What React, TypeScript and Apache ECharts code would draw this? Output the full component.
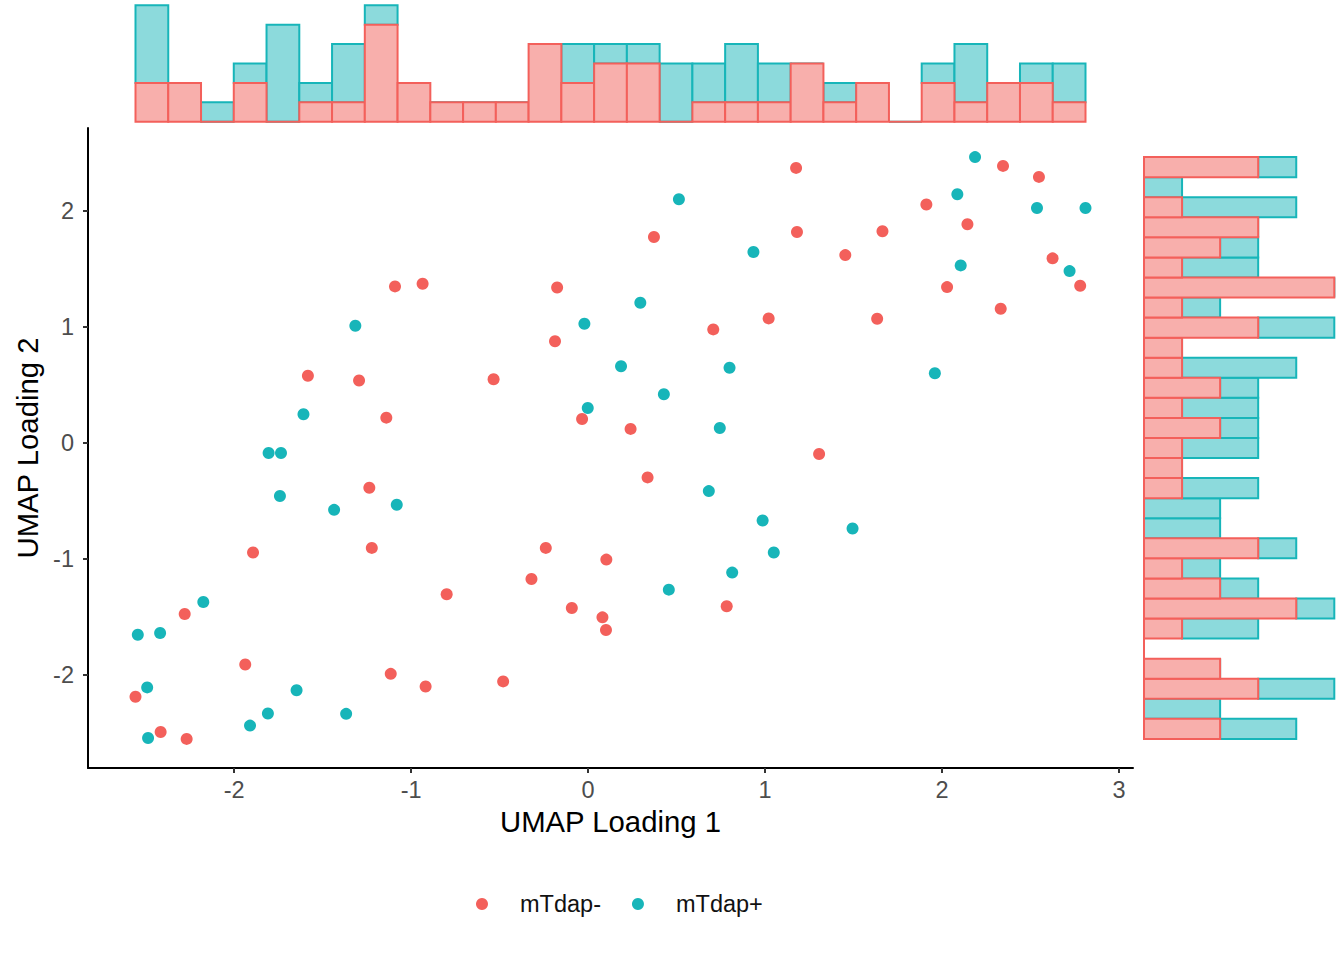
import React, { useEffect, useRef } from "react";
import * as echarts from "echarts";

const RED = "#F3605B";
const TEAL = "#17B5B9";
const RED_FILL = "#F8AFAC";
const TEAL_FILL = "#8CDADC";
const FONT = "'Liberation Sans', Arial, Helvetica, sans-serif";

const groups = ["mTdap-", "mTdap+"];

// UMAP loadings [x, y] per sample
const redPoints: number[][] = [
  [1.175, 2.374], [2.344, 2.391], [2.547, 2.296], [1.911, 2.058], [2.143, 1.888],
  [1.18, 1.821], [0.372, 1.778], [1.663, 1.827], [1.453, 1.622], [2.624, 1.594],
  [2.028, 1.346], [2.78, 1.358], [-1.091, 1.352], [-0.935, 1.375], [-0.175, 1.343],
  [1.02, 1.076], [1.633, 1.073], [2.331, 1.159], [0.707, 0.981], [-0.187, 0.879],
  [-1.583, 0.581], [-1.294, 0.54], [-0.534, 0.551], [-1.14, 0.22], [-0.034, 0.209],
  [0.24, 0.123], [1.305, -0.093], [0.336, -0.295], [-1.236, -0.384], [-1.893, -0.943],
  [-1.222, -0.903], [-0.239, -0.903], [0.103, -1.004], [-0.32, -1.171], [-0.799, -1.303],
  [-2.279, -1.473], [-0.092, -1.421], [0.783, -1.406], [0.081, -1.502], [0.101, -1.611],
  [-1.937, -1.908], [-1.115, -1.989], [-0.918, -2.098], [-0.48, -2.054], [-2.557, -2.187],
  [-2.415, -2.49], [-2.268, -2.55],
];

const tealPoints: number[][] = [
  [2.186, 2.467], [2.086, 2.147], [0.513, 2.104], [2.536, 2.028], [2.81, 2.028],
  [0.934, 1.648], [2.105, 1.533], [2.72, 1.484], [0.295, 1.211], [-1.315, 1.013],
  [-0.021, 1.03], [0.186, 0.663], [0.799, 0.65], [1.959, 0.603], [0.428, 0.422],
  [-1.608, 0.249], [-0.002, 0.304], [0.744, 0.131], [-1.805, -0.085], [-1.735, -0.085],
  [-1.741, -0.456], [-1.435, -0.575], [-1.081, -0.531], [0.682, -0.413], [0.986, -0.667],
  [1.494, -0.736], [1.049, -0.943], [0.814, -1.116], [-2.174, -1.369], [0.456, -1.263],
  [-2.544, -1.652], [-2.418, -1.637], [-2.491, -2.106], [-1.647, -2.13], [-1.809, -2.331],
  [-1.367, -2.334], [-1.91, -2.435], [-2.486, -2.542],
];

const xTicks = [-2, -1, 0, 1, 2, 3];
const yTicks = [-2, -1, 0, 1, 2];

// top marginal histogram, bins left to right
const topRedCounts = [2, 2, 0, 2, 0, 1, 1, 5, 2, 1, 1, 1, 4, 2, 3, 3, 0, 1, 1, 1, 3, 1, 2, 0, 2, 1, 2, 2, 1];
const topTealCounts = [4, 0, 1, 1, 5, 1, 3, 1, 0, 0, 0, 0, 0, 2, 1, 1, 3, 2, 3, 2, 0, 1, 0, 0, 1, 3, 0, 1, 2];

// right marginal histogram, bins bottom to top
const sideRedCounts = [2, 0, 3, 2, 0, 1, 4, 2, 1, 3, 0, 0, 1, 1, 1, 2, 1, 2, 1, 1, 3, 1, 5, 1, 2, 3, 1, 0, 3];
const sideTealCounts = [2, 2, 2, 0, 0, 2, 1, 1, 1, 1, 2, 2, 2, 0, 2, 1, 2, 1, 3, 0, 2, 1, 0, 2, 1, 0, 3, 1, 1];

const allPoints = [...redPoints, ...tealPoints];
const xs = allPoints.map((p) => p[0]);
const ys = allPoints.map((p) => p[1]);
const xLo = Math.min(...xs);
const xHi = Math.max(...xs);
const yLo = Math.min(...ys);
const yHi = Math.max(...ys);
const xPad = (xHi - xLo) * 0.05;
const yPad = (yHi - yLo) * 0.05;

// rows: [binStart, binEnd, countFrom, countTo]
const binRows = (lo: number, hi: number, counts: number[], base?: number[]) => {
  const w = (hi - lo) / counts.length;
  return counts.map((c, i) => {
    const b = base ? base[i] : 0;
    return [lo + i * w, lo + (i + 1) * w, b, b + c];
  });
};

const histSeries = (
  rows: number[][],
  xAxisIndex: number,
  yAxisIndex: number,
  horizontal: boolean,
  fill: string,
  stroke: string
) => ({
  type: "custom",
  xAxisIndex,
  yAxisIndex,
  silent: true,
  data: rows,
  renderItem: (_params: any, api: any) => {
    const lo = api.value(0);
    const hi = api.value(1);
    const c0 = api.value(2);
    const c1 = api.value(3);
    const p0 = horizontal ? api.coord([c0, lo]) : api.coord([lo, c0]);
    const p1 = horizontal ? api.coord([c1, hi]) : api.coord([hi, c1]);
    return {
      type: "rect",
      shape: {
        x: Math.min(p0[0], p1[0]),
        y: Math.min(p0[1], p1[1]),
        width: Math.abs(p1[0] - p0[0]),
        height: Math.abs(p1[1] - p0[1]),
      },
      style: { fill, stroke, lineWidth: 2 },
    };
  },
});

const App: React.FC = () => {
  const chartRef = useRef<HTMLDivElement>(null);

  useEffect(() => {
    if (!chartRef.current) return;
    const chart = echarts.init(chartRef.current, undefined, { renderer: "svg" });

    const hidden = { show: false, splitLine: { show: false } };
    const xMin = xLo - xPad;
    const xMax = xHi + xPad;
    const yMin = yLo - yPad;
    const yMax = yHi + yPad;

    chart.setOption({
      animation: false,
      backgroundColor: "#ffffff",
      textStyle: { fontFamily: FONT },
      grid: [
        { left: 88, top: 128, width: 1045, height: 640, outerBoundsMode: "none" },
        { left: 88, top: 5.3, width: 1045, height: 116.4, outerBoundsMode: "none" },
        { left: 1144, top: 128, width: 190.3, height: 640, outerBoundsMode: "none" },
      ],
      xAxis: [
        {
          type: "value",
          gridIndex: 0,
          min: xMin,
          max: xMax,
          name: "UMAP Loading 1",
          nameLocation: "middle",
          nameGap: 37,
          nameTextStyle: { fontFamily: FONT, fontSize: 29.3, color: "#000" },
          axisLine: { onZero: false, lineStyle: { color: "#000", width: 2 } },
          axisTick: { customValues: xTicks, length: 5, lineStyle: { color: "#333", width: 2 } },
          axisLabel: {
            customValues: xTicks,
            margin: 10,
            fontFamily: FONT,
            fontSize: 23.5,
            color: "#4D4D4D",
          },
          splitLine: { show: false },
        },
        { type: "value", gridIndex: 1, min: xMin, max: xMax, ...hidden },
        { type: "value", gridIndex: 2, min: 0, max: 5, ...hidden },
      ],
      yAxis: [
        {
          type: "value",
          gridIndex: 0,
          min: yMin,
          max: yMax,
          name: "UMAP Loading 2",
          nameLocation: "middle",
          nameRotate: 90,
          nameGap: 44,
          nameTextStyle: { fontFamily: FONT, fontSize: 29.3, color: "#000" },
          axisLine: { onZero: false, lineStyle: { color: "#000", width: 2 } },
          axisTick: { customValues: yTicks, length: 5, lineStyle: { color: "#333", width: 2 } },
          axisLabel: {
            customValues: yTicks,
            margin: 14,
            fontFamily: FONT,
            fontSize: 23.5,
            color: "#4D4D4D",
          },
          splitLine: { show: false },
        },
        { type: "value", gridIndex: 1, min: 0, max: 6, ...hidden },
        { type: "value", gridIndex: 2, min: yMin, max: yMax, ...hidden },
      ],
      legend: {
        data: groups.map((name) => ({ name, icon: "circle" })),
        left: 471,
        top: 887,
        itemWidth: 12,
        itemHeight: 12,
        itemGap: 31,
        selectedMode: false,
        textStyle: {
          fontFamily: FONT,
          fontSize: 23.5,
          color: "#111",
          padding: [0, 0, 0, 27],
        },
      },
      series: [
        histSeries(binRows(xLo, xHi, topTealCounts, topRedCounts), 1, 1, false, TEAL_FILL, TEAL),
        histSeries(binRows(xLo, xHi, topRedCounts), 1, 1, false, RED_FILL, RED),
        histSeries(binRows(yLo, yHi, sideTealCounts, sideRedCounts), 2, 2, true, TEAL_FILL, TEAL),
        histSeries(binRows(yLo, yHi, sideRedCounts), 2, 2, true, RED_FILL, RED),
        {
          name: groups[1],
          type: "scatter",
          xAxisIndex: 0,
          yAxisIndex: 0,
          symbolSize: 12,
          itemStyle: { color: TEAL, opacity: 1 },
          data: tealPoints,
        },
        {
          name: groups[0],
          type: "scatter",
          xAxisIndex: 0,
          yAxisIndex: 0,
          symbolSize: 12,
          itemStyle: { color: RED, opacity: 1 },
          data: redPoints,
        },
      ],
    });

    return () => {
      chart.dispose();
    };
  }, []);

  return (
    <div
      ref={chartRef}
      style={{ position: "absolute", left: 0, top: 0, width: "1344px", height: "960px" }}
    />
  );
};

export default App;
